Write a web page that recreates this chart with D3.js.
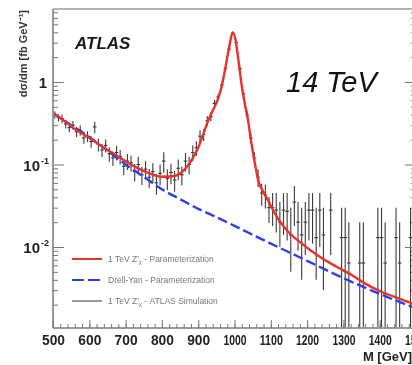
<!DOCTYPE html>
<html><head><meta charset="utf-8">
<script src="https://cdn.jsdelivr.net/npm/d3@7"></script>
<style>
body{margin:0;background:#fff}
svg{display:block;filter:blur(0.35px)}
text{font-family:"Liberation Sans",Arial,Helvetica,sans-serif}
</style>
</head><body>
<script>
// ---- data ----
const xTicks = [500,600,700,800,900,1000,1100,1200,1300,1400,1500];
const yTicks = [1, 0.1, 0.01];
const yTickLabels = [["1",""],["10","-1"],["10","-2"]];

// Z' signal + DY parameterization (red)
const sigMass = [500,530,560,600,640,680,720,760,800,830,860,880,900,915,925,940,953,965,975,985,995,1003,1011,1020,1030,1037,1045,1055,1065,1080,1092,1110,1128,1150,1183,1211,1239,1280,1322,1360,1406,1450,1500];
const sigVal  = [0.42,0.34,0.27,0.21,0.16,0.125,0.097,0.08,0.071,0.072,0.085,0.11,0.16,0.24,0.32,0.45,0.6,0.9,1.5,2.6,4.0,3.2,1.8,0.9,0.5,0.35,0.2,0.11,0.065,0.046,0.037,0.026,0.0195,0.015,0.0112,0.009,0.0074,0.0058,0.0046,0.0036,0.00285,0.0024,0.0020];

// Drell-Yan parameterization (blue)
const dyMass = [500,550,600,650,700,750,800,850,900,950,1000,1100,1200,1300,1400,1500];
const dyVal  = [0.42,0.30,0.215,0.147,0.10,0.071,0.050,0.038,0.029,0.023,0.018,0.011,0.0068,0.0042,0.0027,0.0018];

// ATLAS simulation points (black)
const ptMass = [505,515,525,535,545,555,565,575,585,595,605,615,625,635,645,655,665,675,685,695,705,715,725,735,745,755,765,775,785,795,805,815,825,835,845,855,865,875,885,895,905,915,925,935,945,955,965,975,985,995,1005,1015,1025,1035,1045,1055,1065,1075,1085,1095];
const ptVal  = [0.40,0.37,0.36,0.31,0.28,0.30,0.25,0.26,0.21,0.22,0.19,0.285,0.175,0.15,0.17,0.135,0.12,0.14,0.125,0.095,0.11,0.105,0.082,0.10,0.075,0.088,0.07,0.082,0.06,0.078,0.11,0.068,0.08,0.065,0.09,0.075,0.11,0.10,0.14,0.16,0.22,0.23,0.34,0.38,0.55,0.66,0.92,1.45,2.5,3.9,3.0,1.45,0.72,0.40,0.21,0.12,0.07,0.045,0.043,0.03];
const ptErr  = [0.1,0.1,0.12,0.12,0.12,0.12,0.14,0.14,0.15,0.15,0.16,0.16,0.18,0.18,0.18,0.2,0.2,0.2,0.2,0.22,0.22,0.22,0.24,0.24,0.25,0.25,0.26,0.26,0.28,0.28,0.28,0.28,0.28,0.28,0.28,0.26,0.25,0.24,0.22,0.2,0.18,0.16,0.14,0.12,0.1,0.08,0.07,0.06,0.05,0.04,0.05,0.06,0.08,0.1,0.14,0.18,0.24,0.3,0.32,0.35];

// tail points with explicit error extents (0 = no lower bound)
const tailMass = [1105,1115,1125,1135,1145,1155,1165,1175,1185,1195,1205,1215,1225,1235,1245,1265,1295,1305,1315,1345,1355,1395,1405,1415,1445,1455,1485];
const tailVal  = [0.030,0.028,0.020,0.028,0.027,0.014,0.035,0.020,0.014,0.020,0.028,0.028,0.013,0.028,0.014,0.028,0.013,0.013,0.0064,0.0064,0.0064,0.013,0.013,0.0064,0.013,0.0064,0.013];
const tailLo   = [0.018,0.015,0.010,0.014,0.012,0.005,0.018,0.009,0.004,0.008,0.012,0.011,0.004,0.010,0.003,0.008,0,0,0,0,0,0,0,0,0,0,0];
const tailHi   = [0.045,0.045,0.035,0.045,0.045,0.030,0.055,0.035,0.030,0.035,0.045,0.045,0.030,0.045,0.030,0.045,0.030,0.030,0.020,0.020,0.020,0.030,0.030,0.020,0.030,0.020,0.030];

const legendLabels = ["1 TeV Z'", "Drell-Yan - Parameterization", "1 TeV Z'"];

// ---- layout ----
const W = 412, H = 365;
const L = 53, R = 416, T = 9, B = 328;

const svg = d3.select("body").append("svg").attr("width", W).attr("height", H);

const x = d3.scaleLinear().domain([500,1500]).range([L, R]);
const y = d3.scaleLog().domain([1e-3, 10]).range([329.5, -0.5]);

svg.append("clipPath").attr("id","clip").append("rect")
  .attr("x", L).attr("y", T).attr("width", R-L).attr("height", B-T);

const plot = svg.append("g").attr("clip-path","url(#clip)");

// data points
const pts = ptMass.map((m,i)=>({m, v:ptVal[i], lo:ptVal[i]*(1-ptErr[i]), hi:ptVal[i]*(1+ptErr[i])}))
  .concat(tailMass.map((m,i)=>({m, v:tailVal[i], lo:tailLo[i], hi:tailHi[i]})));
const g = plot.append("g").attr("stroke","#3a3a3a").attr("stroke-width",1.1);
pts.forEach(p=>{
  const yl = p.lo > 0 ? y(p.lo) : B + 2;
  g.append("line").attr("x1",x(p.m)).attr("x2",x(p.m)).attr("y1",y(p.hi)).attr("y2",yl);
  g.append("line").attr("x1",x(p.m-5)).attr("x2",x(p.m+5)).attr("y1",y(p.v)).attr("y2",y(p.v));
});

// curves
const line = d3.line().x(d=>x(d[0])).y(d=>y(d[1])).curve(d3.curveMonotoneX);
plot.append("path").datum(dyMass.map((m,i)=>[m,dyVal[i]]))
  .attr("d", line).attr("fill","none").attr("stroke","#2c3fe6").attr("stroke-width",2.4)
  .attr("stroke-dasharray","10,4");
plot.append("path").datum(sigMass.map((m,i)=>[m,sigVal[i]]))
  .attr("d", line).attr("fill","none").attr("stroke","#e8312b").attr("stroke-width",2.4);

// frame
const axisCol = "#9a9a9a";
svg.append("line").attr("x1",L).attr("x2",L).attr("y1",T).attr("y2",B).attr("stroke",axisCol).attr("stroke-width",2);
svg.append("line").attr("x1",L).attr("x2",W).attr("y1",B).attr("y2",B).attr("stroke",axisCol).attr("stroke-width",2);
svg.append("line").attr("x1",L).attr("x2",W).attr("y1",T).attr("y2",T).attr("stroke",axisCol).attr("stroke-width",1.5);
svg.append("line").attr("x1",R).attr("x2",R).attr("y1",T).attr("y2",B).attr("stroke",axisCol).attr("stroke-width",1.5);

// x ticks via axis (inside)
const xMinor = d3.range(500,1501,20);
const xAxMinor = d3.axisBottom(x).tickValues(xMinor).tickSize(-4).tickFormat("");
const gxm = svg.append("g").attr("transform",`translate(0,${B})`).call(xAxMinor);
gxm.select(".domain").remove();
gxm.selectAll("line").attr("stroke","#777");
const xAx = d3.axisBottom(x).tickValues(xTicks).tickSize(-8).tickPadding(0).tickFormat(d3.format("d"));
const gx = svg.append("g").attr("transform",`translate(0,${B})`).call(xAx);
gx.select(".domain").remove();
gx.selectAll("line").attr("stroke","#777");
gx.selectAll("text").attr("y",17).attr("dy",0).attr("fill","#222").attr("font-size","15px").attr("font-weight","bold")
  .attr("textLength",23).attr("lengthAdjust","spacingAndGlyphs")
  .style("font-family",'"Liberation Sans",Arial,sans-serif');

// y ticks (log minor)
const yMinor = [];
[1e-3,1e-2,1e-1,1].forEach(dec=>{ for(let k=2;k<=9;k++) yMinor.push(dec*k); });
const yMin = yMinor.filter(v=>y(v)>=T && y(v)<=B);
const gyl = svg.append("g").attr("transform",`translate(${L},0)`).call(d3.axisLeft(y).tickValues(yMin).tickSize(-5).tickFormat(""));
gyl.select(".domain").remove(); gyl.selectAll("line").attr("stroke","#777");
const gyL = svg.append("g").attr("transform",`translate(${L},0)`).call(d3.axisLeft(y).tickValues(yTicks).tickSize(-11).tickFormat(""));
gyL.select(".domain").remove(); gyL.selectAll("line").attr("stroke","#777");
const gyr = svg.append("g").attr("transform",`translate(${R},0)`).call(d3.axisRight(y).tickValues(yMin).tickSize(-5).tickFormat(""));
gyr.select(".domain").remove(); gyr.selectAll("line").attr("stroke","#777");
const gyR = svg.append("g").attr("transform",`translate(${R},0)`).call(d3.axisRight(y).tickValues(yTicks).tickSize(-11).tickFormat(""));
gyR.select(".domain").remove(); gyR.selectAll("line").attr("stroke","#777");

// y tick labels
yTicks.forEach((v,i)=>{
  const t = svg.append("text").attr("x", 47).attr("y", y(v)+6).attr("text-anchor","end")
    .attr("font-size","15px").attr("font-weight","bold").attr("fill","#222");
  const [base,sup] = yTickLabels[i];
  if(!sup){ t.text(base); }
  else {
    t.attr("x", 40);
    t.append("tspan").text(base);
    svg.append("text").attr("x",41).attr("y",y(v)-1).attr("font-size","9px").attr("font-weight","bold").attr("fill","#222").text(sup);
  }
});

// axis titles
svg.append("text").attr("x", 412).attr("y", 361).attr("text-anchor","end")
  .attr("font-size","13px").attr("font-weight","bold").attr("fill","#222").text("M [GeV]");
svg.append("text").attr("transform","translate(27,10) rotate(-90)").attr("text-anchor","end")
  .attr("font-size","11px").attr("font-weight","bold").attr("fill","#333")
  .text("dσ/dm [fb GeV⁻¹]");

// labels
svg.append("text").attr("x",75).attr("y",49).attr("font-size","17px").attr("font-weight","bold")
  .attr("font-style","italic").attr("fill","#1a1a1a").text("ATLAS");
svg.append("text").attr("x",286).attr("y",92).attr("font-size","29px")
  .attr("font-style","italic").attr("fill","#111").text("14 TeV");

// legend
const legY = [259, 280, 301];
const legStyles = [
  {c:"#e8312b", w:2, d:null},
  {c:"#2c3fe6", w:2, d:"12,4"},
  {c:"#555", w:1.2, d:null}
];
const legSuffix = [" - Parameterization", null, " - ATLAS Simulation"];
legY.forEach((yy,i)=>{
  const s = legStyles[i];
  const ln = svg.append("line").attr("x1",72).attr("x2",102).attr("y1",yy).attr("y2",yy)
    .attr("stroke",s.c).attr("stroke-width",s.w);
  if(s.d) ln.attr("stroke-dasharray",s.d);
  const t = svg.append("text").attr("x",108).attr("y",yy+3).attr("font-size","8.5px").attr("fill","#777");
  t.append("tspan").text(legendLabels[i]);
  if(legSuffix[i]!==null){
    t.append("tspan").attr("font-size","6px").attr("dy",2).text("χ");
    t.append("tspan").attr("dy",-2).text(legSuffix[i]);
  }
});
</script>
</body></html>
